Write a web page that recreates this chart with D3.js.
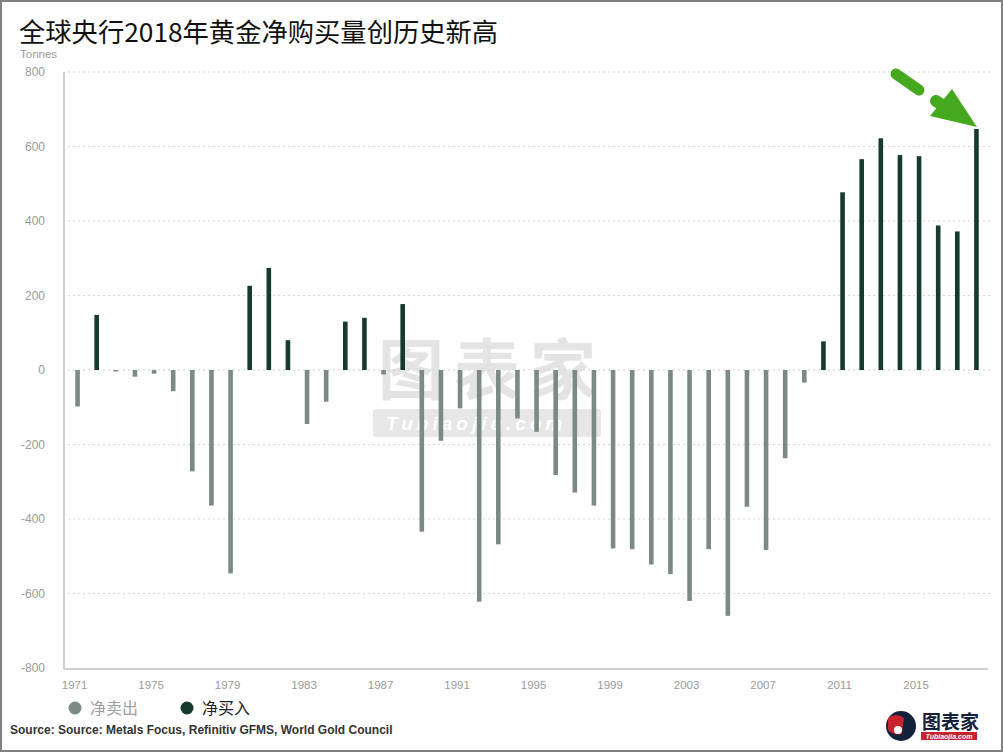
<!DOCTYPE html>
<html><head><meta charset="utf-8">
<script src="https://cdn.jsdelivr.net/npm/d3@7/dist/d3.min.js"></script>
<style>
html,body{margin:0;padding:0;background:#fff;}
svg{display:block;}
</style></head>
<body>
<svg id="chart" width="1003" height="753"></svg>
<script>
const years = d3.range(1971, 2019);
const netTonnes = [
  -98, 148, -4, -18, -10, -57, -272, -364, -546, 226,
  274, 80, -145, -85, 130, 140, -12, 177, -434, -190,
  -103, -622, -468, -130, -166, -282, -329, -364, -479, -481,
  -522, -548, -620, -481, -660, -367, -483, -237, -34, 77,
  477, 566, 622, 577, 574, 388, 372, 647
];
const yTicks = [800, 600, 400, 200, 0, -200, -400, -600, -800];
const xTickLabels = ["1971","1975","1979","1983","1987","1991","1995","1999","2003","2007","2011","2015"];
const seriesNames = ["净卖出", "净买入"];
const seriesColors = ["#7b8b84", "#173a2f"];

const svg = d3.select("#chart");
const fontLatin = "'Liberation Sans', Arial, sans-serif";
const fontCJK = "'Noto Sans CJK SC', 'Noto Sans', sans-serif";

// frame
svg.append("rect").attr("x",1).attr("y",1).attr("width",1001).attr("height",750)
  .attr("fill","#fff").attr("stroke","#808080").attr("stroke-width",2);

// title
svg.append("text").attr("x",19).attr("y",42)
  .attr("font-family",fontCJK).attr("font-size",26.3).attr("fill","#111")
  .text("全球央行2018年黄金净购买量创历史新高");

const x = d3.scaleBand().domain(years).range([68, 986]).paddingInner(0).paddingOuter(0);
const y = d3.scaleLinear().domain([-800, 800]).range([668, 72]);

// gridlines
svg.append("g").selectAll("line").data(yTicks.filter(d => d !== -800)).join("line")
  .attr("x1",68).attr("x2",990)
  .attr("y1",d=>y(d)).attr("y2",d=>y(d))
  .attr("stroke", d => d===0 ? "#d7c9c9" : "#d4d4d4")
  .attr("stroke-width",1.2)
  .attr("stroke-dasharray","2,3");

// y axis labels
svg.append("text").attr("x",20).attr("y",58).attr("font-family",fontLatin)
  .attr("font-size",11.5).attr("fill","#9a9a9a").text("Tonnes");
svg.append("g").selectAll("text").data(yTicks).join("text")
  .attr("x",45).attr("y",d=>y(d)+4).attr("text-anchor","end")
  .attr("font-family",fontLatin).attr("font-size",12).attr("fill","#9a9a9a")
  .text(d=>d);

// axes lines
svg.append("line").attr("x1",64).attr("x2",64).attr("y1",72).attr("y2",669)
  .attr("stroke","#cfcfcf").attr("stroke-width",2);
svg.append("line").attr("x1",64).attr("x2",988).attr("y1",669).attr("y2",669)
  .attr("stroke","#cfcfcf").attr("stroke-width",2);

// x axis via d3 axis
const xAxis = d3.axisBottom(x)
  .tickValues(xTickLabels.map(Number))
  .tickSize(0).tickPadding(0);
const gx = svg.append("g").attr("transform","translate(0,681)").call(xAxis);
gx.select(".domain").remove();
gx.selectAll("text").attr("font-family",fontLatin).attr("font-size",11.5)
  .attr("fill","#9a9a9a").attr("dx",-3).attr("dy","0.71em");

// watermark
const wm = svg.append("g").attr("opacity",0.7);
wm.append("text").attr("x",378).attr("y",394).attr("font-family",fontCJK)
  .attr("font-size",66).attr("font-weight",700).attr("fill","#dadada").attr("letter-spacing",10).text("图表家");
wm.append("rect").attr("x",373).attr("y",409).attr("width",228).attr("height",28).attr("rx",3).attr("fill","#dedede");
wm.append("text").attr("x",386).attr("y",430).attr("font-family",fontLatin).attr("font-style","italic")
  .attr("font-weight",700).attr("font-size",19).attr("fill","#fff").attr("letter-spacing",4).text("Tubiaojiu.com");

// bars
const barW = 4.6;
svg.append("g").selectAll("rect").data(years.map((yr,i)=>({yr, v: netTonnes[i]}))).join("rect")
  .attr("x", d => x(d.yr) + x.bandwidth()/2 - barW/2)
  .attr("width", barW)
  .attr("y", d => y(Math.max(0, d.v)))
  .attr("height", d => Math.max(1.5, Math.abs(y(d.v) - y(0))))
  .attr("fill", d => d.v >= 0 ? seriesColors[1] : seriesColors[0]);

// green arrow annotation
const arrow = svg.append("g").attr("fill","#45a91f").attr("stroke","#45a91f");
arrow.append("line").attr("x1",896).attr("y1",74).attr("x2",919).attr("y2",90)
  .attr("stroke-width",11).attr("stroke-linecap","round");
arrow.append("line").attr("x1",936).attr("y1",101).attr("x2",954).attr("y2",113)
  .attr("stroke-width",12).attr("stroke-linecap","round");
arrow.append("path").attr("stroke","none")
  .attr("d","M 977 127 L 952 89 L 930 116 Z");

// legend
const leg = svg.append("g");
seriesNames.forEach((n,i)=>{
  const lx = i===0 ? 75 : 187;
  leg.append("circle").attr("cx",lx).attr("cy",708).attr("r",6.5).attr("fill",seriesColors[i]);
  leg.append("text").attr("x",lx+15).attr("y",714).attr("font-family",fontCJK).attr("font-size",16)
    .attr("fill", i===0 ? "#a0a0a0" : "#222").text(n);
});

// source
svg.append("text").attr("x",10).attr("y",734).attr("font-family",fontLatin)
  .attr("font-size",12).attr("fill","#333").attr("font-weight",700)
  .text("Source: Source: Metals Focus, Refinitiv GFMS, World Gold Council");

// logo bottom right
const logo = svg.append("g");
logo.append("circle").attr("cx",901).attr("cy",726).attr("r",15).attr("fill","#13223a");
logo.append("path").attr("d","M 888 718 Q 896 712 904 718 L 902 734 Q 894 736 888 730 Z").attr("fill","#c8232c");
logo.append("circle").attr("cx",898).attr("cy",730).attr("r",4).attr("fill","#fff");
logo.append("text").attr("x",922).attr("y",729).attr("font-family",fontCJK).attr("font-size",19)
  .attr("font-weight",700).attr("fill","#13223a").text("图表家");
logo.append("rect").attr("x",921).attr("y",732).attr("width",56).attr("height",8).attr("fill","#c8232c");
logo.append("text").attr("x",949).attr("y",739).attr("text-anchor","middle").attr("font-family",fontLatin)
  .attr("font-size",7).attr("font-style","italic").attr("font-weight",700).attr("fill","#fff").text("Tubiaojia.com");
</script>
</body></html>
